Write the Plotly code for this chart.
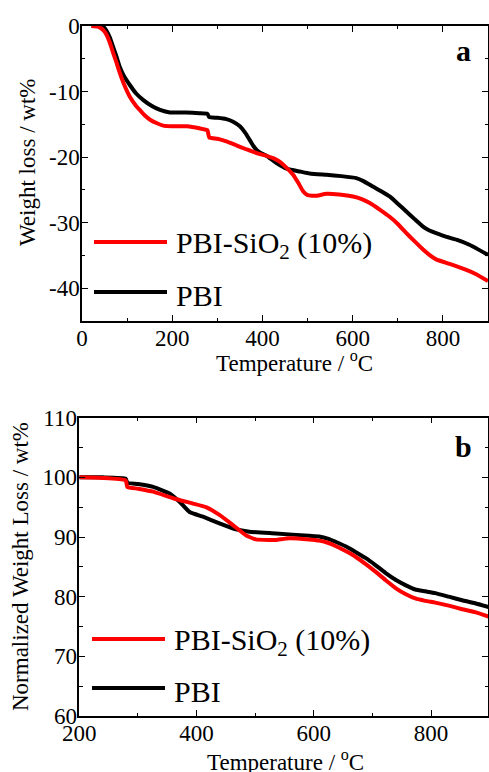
import plotly.graph_objects as go

# ---------------- data: panel a (weight loss vs temperature) ----------------
temp_a_pbi = [21, 35, 47, 55, 62, 69, 77, 84, 92, 106, 120, 136, 155, 173, 195, 230, 260, 278, 282, 300,
              320, 335, 350, 362, 372, 380, 387, 394, 409, 431, 455, 483, 505, 542, 575, 608, 625, 645, 663, 682,
              700, 719, 738, 756, 770, 785, 805, 830, 860, 900]
loss_a_pbi = [0, 0, -0.1, -0.8, -1.8, -3.2, -4.8, -6.3, -7.5, -9.0, -10.3, -11.3, -12.2, -12.8, -13.2, -13.2, -13.3, -13.4, -13.9, -14.0,
              -14.2, -14.6, -15.3, -16.3, -17.4, -18.3, -18.9, -19.3, -19.8, -20.9, -21.8, -22.2, -22.5, -22.7, -22.9, -23.2, -23.7, -24.5, -25.2, -26.0,
              -27.1, -28.3, -29.5, -30.6, -31.2, -31.6, -32.1, -32.6, -33.4, -34.9]

temp_a_sio2 = [21, 35, 47, 55, 62, 69, 77, 84, 92, 106, 120, 128, 140, 151, 165, 180, 200, 232, 260, 278,
               282, 300, 320, 342, 364, 387, 409, 425, 438, 453, 468, 480, 490, 500, 520, 542, 570, 601, 620, 638,
               660, 682, 700, 719, 738, 756, 770, 785, 815, 852, 875, 900]
loss_a_sio2 = [0, -0.1, -0.6, -1.4, -2.6, -4.1, -5.7, -7.2, -8.7, -10.8, -12.2, -12.8, -13.7, -14.3, -14.8, -15.2, -15.3, -15.3, -15.6, -15.9,
               -17.0, -17.2, -17.6, -18.2, -18.8, -19.4, -19.8, -20.2, -20.7, -21.6, -22.7, -24.0, -25.2, -25.8, -25.9, -25.6, -25.7, -26.0, -26.4, -27.0,
               -28.0, -29.1, -30.2, -31.6, -32.9, -34.1, -34.9, -35.6, -36.3, -37.2, -37.9, -38.9]

# ---------------- data: panel b (normalized weight vs temperature) ----------------
temp_b_pbi = [200, 240, 279, 282, 300, 326, 354, 371, 388, 411, 439, 467, 490, 535, 592, 609, 625, 637, 655, 671,
              688, 705, 722, 740, 757, 773, 790, 807, 830, 853, 875, 900]
norm_b_pbi = [100, 100, 99.8, 99.1, 98.9, 98.4, 97.3, 95.9, 94.2, 93.4, 92.3, 91.3, 90.9, 90.6, 90.2, 90.1, 89.7, 89.2, 88.4, 87.5,
              86.5, 85.3, 84.0, 82.8, 81.9, 81.2, 80.9, 80.6, 80.0, 79.4, 78.9, 78.2]

temp_b_sio2 = [200, 240, 279, 282, 300, 326, 360, 394, 416, 439, 462, 484, 501, 524, 535, 558, 592, 609, 625, 637,
               655, 671, 688, 705, 722, 740, 757, 773, 790, 807, 830, 853, 875, 900]
norm_b_sio2 = [100, 99.9, 99.5, 98.4, 98.1, 97.6, 96.5, 95.6, 95.0, 93.7, 92.0, 90.3, 89.6, 89.5, 89.5, 89.8, 89.6, 89.4, 89.0, 88.5,
               87.6, 86.7, 85.5, 84.2, 82.8, 81.4, 80.4, 79.7, 79.3, 79.0, 78.5, 77.9, 77.4, 76.6]

series_names = ["PBI-SiO<sub>2</sub> (10%)", "PBI"]
series_colors = ["#ff0000", "#000000"]

xticks_a = [0, 200, 400, 600, 800]
yticks_a = [0, -10, -20, -30, -40]
yticklabels_a = ["0", "-10", "-20", "-30", "-40"]
xticks_b = [200, 400, 600, 800]
yticks_b = [60, 70, 80, 90, 100, 110]

W, H = 489, 772
FONT = "Liberation Serif, Times New Roman, DejaVu Serif, serif"


def px(x):
    return x / W


def py(y):
    return 1 - y / H


fig = go.Figure()
line_w = 4
fig.add_trace(go.Scatter(x=temp_a_pbi, y=loss_a_pbi, mode="lines", line=dict(color=series_colors[1], width=line_w, shape="spline", smoothing=0.4),
                         xaxis="x", yaxis="y", showlegend=False))
fig.add_trace(go.Scatter(x=temp_a_sio2, y=loss_a_sio2, mode="lines", line=dict(color=series_colors[0], width=line_w, shape="spline", smoothing=0.4),
                         xaxis="x", yaxis="y", showlegend=False))
fig.add_trace(go.Scatter(x=temp_b_pbi, y=norm_b_pbi, mode="lines", line=dict(color=series_colors[1], width=line_w, shape="spline", smoothing=0.4),
                         xaxis="x2", yaxis="y2", showlegend=False))
fig.add_trace(go.Scatter(x=temp_b_sio2, y=norm_b_sio2, mode="lines", line=dict(color=series_colors[0], width=line_w, shape="spline", smoothing=0.4),
                         xaxis="x2", yaxis="y2", showlegend=False))

tickfont = dict(family=FONT, size=23, color="black")
common = dict(showline=True, linecolor="black", linewidth=1.5, mirror="allticks", ticks="inside",
              ticklen=6, tickwidth=1.2, tickcolor="black", showgrid=False, zeroline=False, tickfont=tickfont,
              automargin=False, ticklabelstandoff=-4)
minor_common = dict(ticks="inside", ticklen=3.5, tick0=0, tickcolor="black", tickwidth=1.2, showgrid=False)

fig.update_layout(
    width=W, height=H, margin=dict(l=0, r=0, t=0, b=0, autoexpand=False),
    paper_bgcolor="white", plot_bgcolor="white",
    font=dict(family=FONT, color="black"),
    xaxis=dict(domain=[px(82), px(488)], anchor="y", range=[0, 900], tickvals=xticks_a,
               minor=dict(dtick=100, **minor_common), **common),
    yaxis=dict(domain=[py(321), py(26)], anchor="x", range=[-45, 0], tickvals=yticks_a, ticktext=yticklabels_a,
               minor=dict(dtick=5, **minor_common), **common),
    xaxis2=dict(domain=[px(79.3), px(488)], anchor="y2", range=[200, 897], tickvals=xticks_b,
                minor=dict(dtick=100, **minor_common), **common),
    yaxis2=dict(domain=[py(716), py(417.7)], anchor="x2", range=[60, 110], tickvals=yticks_b,
                minor=dict(dtick=5, **minor_common), **common),
)

ann = []
title_font = dict(family=FONT, size=23, color="black")
ann.append(dict(text="Temperature / <sup>o</sup>C", x=px(294), y=py(361), xref="paper", yref="paper",
                xanchor="center", yanchor="middle", showarrow=False, font=title_font))
ann.append(dict(text="Weight loss / wt%", x=px(28), y=py(163), xref="paper", yref="paper", textangle=-90,
                xanchor="center", yanchor="middle", showarrow=False, font=title_font))
ann.append(dict(text="Temperature / <sup>o</sup>C", x=px(285), y=py(760), xref="paper", yref="paper",
                xanchor="center", yanchor="middle", showarrow=False, font=title_font))
ann.append(dict(text="Normalized Weight Loss / wt%", x=px(20), y=py(567), xref="paper", yref="paper", textangle=-90,
                xanchor="center", yanchor="middle", showarrow=False, font=title_font))
lab_font = dict(family=FONT, size=30, color="black")
ann.append(dict(text="<b>a</b>", x=px(463), y=py(50), xref="paper", yref="paper",
                xanchor="center", yanchor="middle", showarrow=False, font=lab_font))
ann.append(dict(text="<b>b</b>", x=px(463), y=py(446), xref="paper", yref="paper",
                xanchor="center", yanchor="middle", showarrow=False, font=lab_font))

leg_font = dict(family=FONT, size=30, color="black")
shapes = []
# legend, panel a
for name, color, ly in zip(series_names, series_colors, [242, 292]):
    shapes.append(dict(type="line", xref="paper", yref="paper", x0=px(94), x1=px(167), y0=py(ly), y1=py(ly),
                       line=dict(color=color, width=4)))
    ann.append(dict(text=name, x=px(174), y=py(ly + 3), xref="paper", yref="paper", xanchor="left", yanchor="middle",
                    showarrow=False, font=leg_font))
# legend, panel b
for name, color, ly in zip(series_names, series_colors, [639, 688]):
    shapes.append(dict(type="line", xref="paper", yref="paper", x0=px(92), x1=px(165), y0=py(ly), y1=py(ly),
                       line=dict(color=color, width=4)))
    ann.append(dict(text=name, x=px(172), y=py(ly + 3), xref="paper", yref="paper", xanchor="left", yanchor="middle",
                    showarrow=False, font=leg_font))

fig.update_layout(annotations=ann, shapes=shapes)
fig.write_html("out.html", config={"displayModeBar": False},
               post_script="document.body.style.margin='0px';document.body.style.overflow='hidden';")
